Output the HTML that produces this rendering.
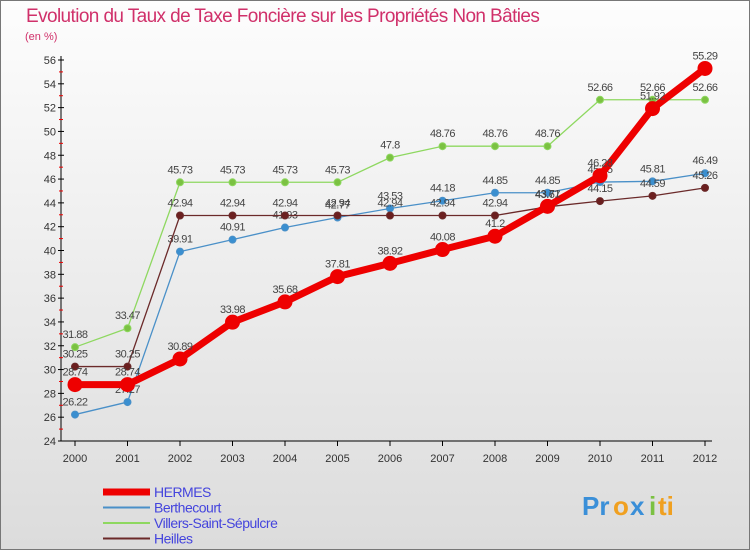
<!DOCTYPE html>
<html><head><meta charset="utf-8"><style>
html,body{margin:0;padding:0;}
body{width:750px;height:550px;overflow:hidden;font-family:"Liberation Sans",sans-serif;}
</style></head><body>
<svg id="chart" width="750" height="550" xmlns="http://www.w3.org/2000/svg" font-family="Liberation Sans, sans-serif">
<defs><linearGradient id="bg" x1="0" y1="0" x2="0" y2="1"><stop offset="0" stop-color="#fdfdfd"/><stop offset="1" stop-color="#dcdcdc"/></linearGradient></defs>
<rect x="0.5" y="0.5" width="749" height="549" fill="url(#bg)" stroke="#777"/>
<text x="26" y="22" font-size="19" fill="#d0306a" letter-spacing="-0.6">Evolution du Taux de Taxe Foncière sur les Propriétés Non Bâties</text>
<text x="25" y="40" font-size="11" fill="#d0306a">(en %)</text>
<g id="axes"></g><g id="series"></g><g id="legend"></g>
<g font-size="26" font-weight="bold">
<text x="582" y="515" fill="#3a8fd8">Pr</text><text x="613" y="515" fill="#f0a020">o</text><text x="630" y="515" fill="#3a8fd8">x</text><text x="649" y="515" fill="#7bc142">i</text><text x="658" y="515" fill="#f0a020">ti</text>
</g>
</svg>
<script>
const years=["2000","2001","2002","2003","2004","2005","2006","2007","2008","2009","2010","2011","2012"];
const yTicks=[24,26,28,30,32,34,36,38,40,42,44,46,48,50,52,54,56];
const hermes=[28.74,28.74,30.89,33.98,35.68,37.81,38.92,40.08,41.2,43.71,46.28,51.92,55.29];
const berthecourt=[26.22,27.27,39.91,40.91,41.93,42.77,43.53,44.18,44.85,44.85,45.75,45.81,46.49];
const villers=[31.88,33.47,45.73,45.73,45.73,45.73,47.8,48.76,48.76,48.76,52.66,52.66,52.66];
const heilles=[30.25,30.25,42.94,42.94,42.94,42.94,42.94,42.94,42.94,43.67,44.15,44.59,45.26];
const NS="http://www.w3.org/2000/svg";
const X=i=>75+i*52.5, Y=v=>441-(v-24)*(381/32);
function mk(t,a,p){const e=document.createElementNS(NS,t);for(const k in a)e.setAttribute(k,a[k]);p.appendChild(e);return e;}
const ax=document.getElementById('axes');
mk('line',{x1:61,y1:56,x2:61,y2:441,stroke:'#000'},ax);
mk('line',{x1:61,y1:441,x2:712,y2:441,stroke:'#000'},ax);
yTicks.forEach(v=>{mk('line',{x1:58,y1:Y(v),x2:64,y2:Y(v),stroke:'#000'},ax);
 if(v<56)mk('line',{x1:59,y1:Y(v+1),x2:63,y2:Y(v+1),stroke:'#e00'},ax);
 const t=mk('text',{x:56,y:Y(v)+4,'text-anchor':'end','font-size':11,fill:'#333'},ax);t.textContent=v;
 
 });
years.forEach((y,i)=>{mk('line',{x1:X(i),y1:441,x2:X(i),y2:446,stroke:'#000'},ax);
 const t=mk('text',{x:X(i),y:462,'text-anchor':'middle','font-size':11,fill:'#333'},ax);t.textContent=y;
 
 });
const sg=document.getElementById('series');
function draw(name,vals,col,w,r,dot){
 const g=mk('g',{},sg);
 
 
 mk('polyline',{points:vals.map((v,i)=>X(i)+','+Y(v)).join(' '),fill:'none',stroke:col,'stroke-width':w,'stroke-linejoin':'round'},g);
 vals.forEach((v,i)=>{const c=mk('circle',{cx:X(i),cy:Y(v),r:r,fill:dot,stroke:col,'stroke-width':1},g);
  
  
  const t=mk('text',{x:X(i),y:Y(v)-9,'text-anchor':'middle','font-size':11,fill:'#444','letter-spacing':'-0.5'},g);t.textContent=String(v);
  
  });
}
draw('berthecourt',berthecourt,'#4a90c8',1.3,3.5,'#3a8fd0');
draw('villers',villers,'#8ed860',1.3,3.5,'#7bc142');
draw('heilles',heilles,'#6b2a2a',1.3,3.5,'#6b1f1f');
draw('hermes',hermes,'#ee0000',7,7,'#ee0000');
const lg=document.getElementById('legend');
[["HERMES","#ee0000",7],["Berthecourt","#4a90c8",2],["Villers-Saint-Sépulcre","#8ed860",2],["Heilles","#6b2a2a",2]].forEach((d,i)=>{
 const y=492+i*15.5;
 const g=mk('g',{},lg);
 
 
 mk('line',{x1:103,y1:y,x2:150,y2:y,stroke:d[1],'stroke-width':d[2]},g);
 const t=mk('text',{x:154,y:y+5,'font-size':14,fill:'#4444dd','letter-spacing':'-0.5'},g);t.textContent=d[0];
});
</script>
</body></html>
